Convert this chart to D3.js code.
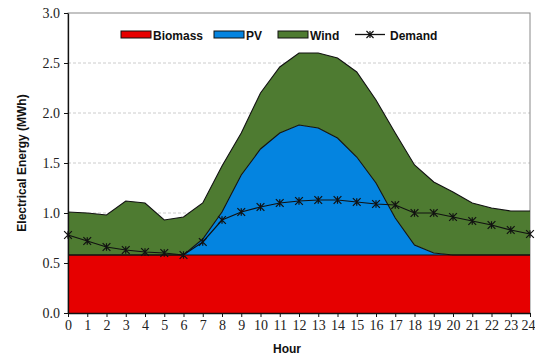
<!DOCTYPE html>
<html>
<head>
<meta charset="utf-8">
<script src="https://cdn.jsdelivr.net/npm/d3@7"></script>
<style>
  body { margin: 0; background: #fff; }
  .tick text { font-family: "Liberation Serif", "Times New Roman", serif; font-size: 14px; fill: #222; }
  .lab { font-family: "Liberation Sans", Arial, sans-serif; font-weight: bold; font-size: 12px; fill: #111; }
</style>
</head>
<body>
<div id="container"></div>
<script>
const hours = d3.range(0, 25);
const biomass = [0.58,0.58,0.58,0.58,0.58,0.58,0.58,0.58,0.58,0.58,0.58,0.58,0.58,0.58,0.58,0.58,0.58,0.58,0.58,0.58,0.58,0.58,0.58,0.58,0.58];
const pv = [0,0,0,0,0,0,0,0.16,0.43,0.80,1.06,1.22,1.30,1.27,1.17,0.98,0.72,0.37,0.10,0.02,0,0,0,0,0];
const wind = [0.43,0.42,0.40,0.54,0.52,0.35,0.38,0.36,0.46,0.42,0.56,0.66,0.72,0.75,0.80,0.85,0.83,0.85,0.80,0.71,0.63,0.52,0.47,0.44,0.44];
const demand = [0.78,0.72,0.66,0.63,0.61,0.60,0.58,0.71,0.93,1.01,1.06,1.10,1.12,1.13,1.13,1.11,1.09,1.08,1.00,1.00,0.96,0.92,0.88,0.83,0.79];
const yTicks = [0, 0.5, 1.0, 1.5, 2.0, 2.5, 3.0];
const seriesNames = ["Biomass", "PV", "Wind"];
const colors = {Biomass: "#e60000", PV: "#0484e0", Wind: "#4e7b31"};

const w = 535, h = 357;
const margin = {top: 13, left: 68, bottom: 44, right: 5};
const graphWidth = w - margin.left - margin.right;
const graphHeight = h - margin.top - margin.bottom;

const svg = d3.select("#container").append("svg").attr("width", w).attr("height", h);
const graph = svg.append("g").attr("transform", `translate(${margin.left}, ${margin.top})`);

const xScale = d3.scaleLinear().domain([0, 24]).range([0, graphWidth]);
const yScale = d3.scaleLinear().domain([0, 3]).range([graphHeight, 0]);

// table for stacking
const table = hours.map((hr, i) => ({hour: hr, Biomass: biomass[i], PV: pv[i], Wind: wind[i]}));
const stacked = d3.stack().keys(seriesNames)(table);

// gridlines
graph.append("g").selectAll("line")
  .data(yTicks.filter(t => t > 0 && t < 3))
  .enter().append("line")
    .attr("x1", 0).attr("x2", graphWidth)
    .attr("y1", d => yScale(d)).attr("y2", d => yScale(d))
    .attr("stroke", "#ccc").attr("stroke-dasharray", "3,2").attr("stroke-width", 1);

// plot border
graph.append("rect").attr("width", graphWidth).attr("height", graphHeight)
  .attr("fill", "none").attr("stroke", "#888").attr("stroke-width", 1);

const area = d3.area()
  .x(d => xScale(d.data.hour))
  .y0(d => yScale(d[0]))
  .y1(d => yScale(d[1]));

graph.selectAll(".layer")
  .data(stacked)
  .enter().append("path")
    .attr("class", "layer")
    .attr("d", area)
    .attr("fill", d => colors[d.key])
    .attr("stroke", "none");

// top outlines of each layer
const topLine = d3.line().x(d => xScale(d.data.hour)).y(d => yScale(d[1]));
graph.selectAll(".outline")
  .data(stacked)
  .enter().append("path")
    .attr("class", "outline")
    .attr("d", topLine)
    .attr("fill", "none")
    .attr("stroke", "#111")
    .attr("stroke-width", 1.1);

// demand line with star markers
const star = {
  draw(ctx, size) {
    const s = Math.sqrt(size) / 2;
    ctx.moveTo(-s, -s); ctx.lineTo(s, s);
    ctx.moveTo(-s, s); ctx.lineTo(s, -s);
    ctx.moveTo(0, -s); ctx.lineTo(0, s);
  }
};
const demandLine = d3.line().x((d, i) => xScale(hours[i])).y(d => yScale(d));
graph.append("path").datum(demand)
  .attr("d", demandLine).attr("fill", "none").attr("stroke", "#111").attr("stroke-width", 1.2);
graph.selectAll(".marker")
  .data(demand)
  .enter().append("path")
    .attr("class", "marker")
    .attr("transform", (d, i) => `translate(${xScale(hours[i])}, ${yScale(d)})`)
    .attr("d", d3.symbol().type(star).size(60))
    .attr("fill", "none").attr("stroke", "#111").attr("stroke-width", 1.2);

// axes
const xAxis = d3.axisBottom(xScale).tickValues(hours).tickSize(4).tickSizeOuter(0).tickPadding(3);
const yAxis = d3.axisLeft(yScale).tickValues(yTicks).tickFormat(d3.format(".1f")).tickSize(4).tickSizeOuter(0).tickPadding(4);
const xAxisGroup = graph.append("g").attr("transform", `translate(0, ${graphHeight})`).call(xAxis);
const yAxisGroup = graph.append("g").call(yAxis);
[xAxisGroup, yAxisGroup].forEach(g => {
  g.select(".domain").attr("stroke", "#111").attr("stroke-width", 1.3);
  g.selectAll(".tick line").attr("stroke", "#111");
});
// last hour label sits on the page edge, pull it in a little
xAxisGroup.selectAll(".tick text").filter(d => d === 24).attr("dx", "-2");

// axis titles
svg.append("text").attr("class", "lab")
  .attr("transform", `translate(26, ${margin.top + graphHeight / 2}) rotate(-90)`)
  .attr("text-anchor", "middle")
  .text("Electrical Energy (MWh)");
svg.append("text").attr("class", "lab")
  .attr("x", 287).attr("y", 353)
  .attr("text-anchor", "middle")
  .text("Hour");

// legend
const legend = svg.append("g").attr("id", "legend").attr("transform", "translate(121, 31)");
const legendItems = [
  {name: "Biomass", x: 0, kind: "box"},
  {name: "PV", x: 93, kind: "box"},
  {name: "Wind", x: 157, kind: "box"},
  {name: "Demand", x: 234, kind: "line"}
];
legendItems.forEach(it => {
  const g = legend.append("g").attr("transform", `translate(${it.x}, 0)`);
  if (it.kind === "box") {
    g.append("rect").attr("x", 0).attr("y", 0).attr("width", 30).attr("height", 7)
      .attr("fill", colors[it.name]).attr("stroke", "#111").attr("stroke-width", 1);
    g.append("text").attr("class", "lab").attr("x", 32).attr("y", 9).text(it.name);
  } else {
    g.append("line").attr("x1", 0).attr("x2", 30).attr("y1", 3.5).attr("y2", 3.5)
      .attr("stroke", "#111").attr("stroke-width", 1.3);
    g.append("path").attr("transform", "translate(15, 3.5)")
      .attr("d", d3.symbol().type(star).size(50))
      .attr("fill", "none").attr("stroke", "#111").attr("stroke-width", 1.2);
    g.append("text").attr("class", "lab").attr("x", 35).attr("y", 9).text(it.name);
  }
});
</script>
</body>
</html>
